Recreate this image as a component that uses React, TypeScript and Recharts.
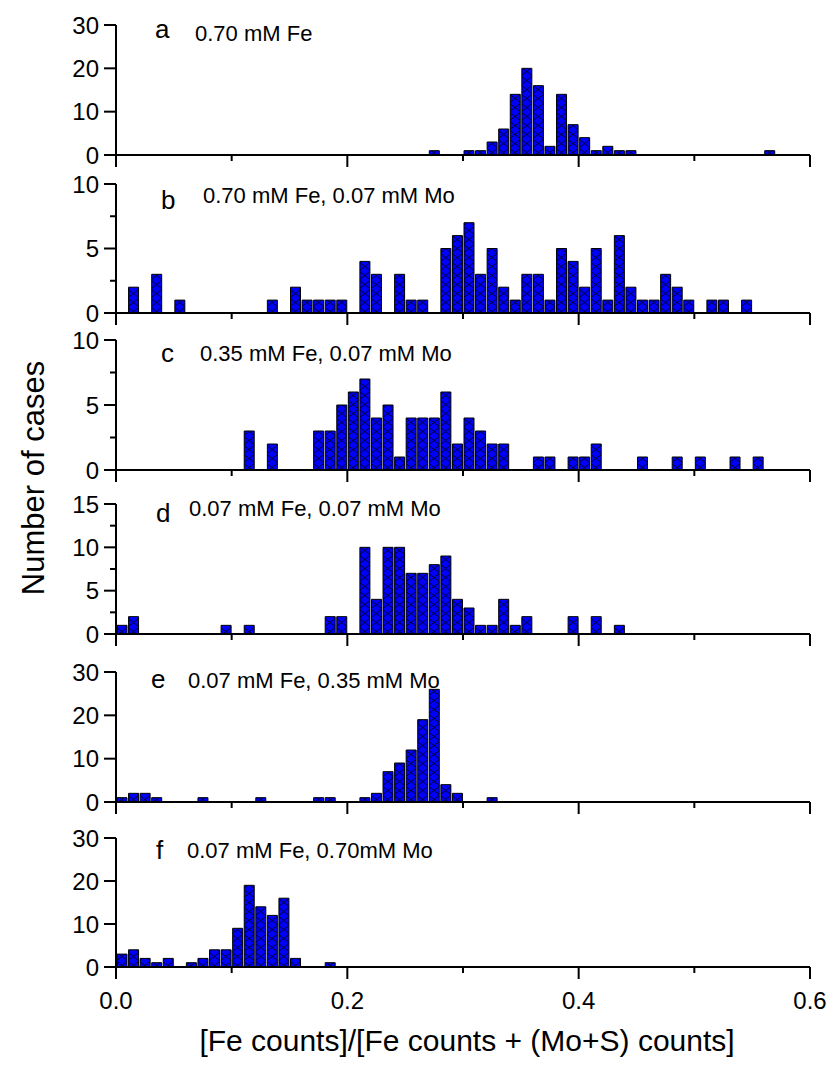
import React from "react";
import { BarChart, Bar, XAxis, YAxis } from "recharts";

// Bin index k covers [k*0.01, (k+1)*0.01)
const binCount = 60;
const xTicks = [0, 0.1, 0.2, 0.3, 0.4, 0.5, 0.6];

const countsA = [
  0, 0, 0, 0, 0, 0, 0, 0, 0, 0,
  0, 0, 0, 0, 0, 0, 0, 0, 0, 0,
  0, 0, 0, 0, 0, 0, 0, 1, 0, 0,
  1, 1, 3, 6, 14, 20, 16, 2, 14, 7,
  4, 1, 2, 1, 1, 0, 0, 0, 0, 0,
  0, 0, 0, 0, 0, 0, 1, 0, 0, 0,
];
const countsB = [
  0, 2, 0, 3, 0, 1, 0, 0, 0, 0,
  0, 0, 0, 1, 0, 2, 1, 1, 1, 1,
  0, 4, 3, 0, 3, 1, 1, 0, 5, 6,
  7, 3, 5, 2, 1, 3, 3, 1, 5, 4,
  2, 5, 1, 6, 2, 1, 1, 3, 2, 1,
  0, 1, 1, 0, 1, 0, 0, 0, 0, 0,
];
const countsC = [
  0, 0, 0, 0, 0, 0, 0, 0, 0, 0,
  0, 3, 0, 2, 0, 0, 0, 3, 3, 5,
  6, 7, 4, 5, 1, 4, 4, 4, 6, 2,
  4, 3, 2, 2, 0, 0, 1, 1, 0, 1,
  1, 2, 0, 0, 0, 1, 0, 0, 1, 0,
  1, 0, 0, 1, 0, 1, 0, 0, 0, 0,
];
const countsD = [
  1, 2, 0, 0, 0, 0, 0, 0, 0, 1,
  0, 1, 0, 0, 0, 0, 0, 0, 2, 2,
  0, 10, 4, 10, 10, 7, 7, 8, 9, 4,
  3, 1, 1, 4, 1, 2, 0, 0, 0, 2,
  0, 2, 0, 1, 0, 0, 0, 0, 0, 0,
  0, 0, 0, 0, 0, 0, 0, 0, 0, 0,
];
const countsE = [
  1, 2, 2, 1, 0, 0, 0, 1, 0, 0,
  0, 0, 1, 0, 0, 0, 0, 1, 1, 0,
  0, 1, 2, 7, 9, 12, 19, 26, 4, 2,
  0, 0, 1, 0, 0, 0, 0, 0, 0, 0,
  0, 0, 0, 0, 0, 0, 0, 0, 0, 0,
  0, 0, 0, 0, 0, 0, 0, 0, 0, 0,
];
const countsF = [
  3, 4, 2, 1, 2, 0, 1, 2, 4, 4,
  9, 19, 14, 12, 16, 2, 0, 0, 1, 0,
  0, 0, 0, 0, 0, 0, 0, 0, 0, 0,
  0, 0, 0, 0, 0, 0, 0, 0, 0, 0,
  0, 0, 0, 0, 0, 0, 0, 0, 0, 0,
  0, 0, 0, 0, 0, 0, 0, 0, 0, 0,
];

const panelLetters = ["a", "b", "c", "d", "e", "f"];
const panelTexts = [
  "0.70 mM Fe",
  "0.70 mM Fe, 0.07 mM Mo",
  "0.35 mM Fe, 0.07 mM Mo",
  "0.07 mM Fe, 0.07 mM Mo",
  "0.07 mM Fe, 0.35 mM Mo",
  "0.07 mM Fe, 0.70mM Mo",
];
const yMax = [30, 10, 10, 15, 30, 30];
const yMajorTicks = [
  [0, 10, 20, 30],
  [0, 5, 10],
  [0, 5, 10],
  [0, 5, 10, 15],
  [0, 10, 20, 30],
  [0, 10, 20, 30],
];
const yMinorTicks = [[], [2.5, 7.5], [2.5, 7.5], [2.5, 7.5, 12.5], [], []];
const allCounts = [countsA, countsB, countsC, countsD, countsE, countsF];

// layout (pixels)
const plotTops = [25, 184, 340, 504, 672, 838];
const plotBottoms = [155, 313, 470, 634, 802, 967];
const letterPos = [
  [155, 38], [161, 209], [161, 362], [156, 522], [151, 688], [156, 859],
];
const textPos = [
  [195, 41], [203, 203], [200, 361], [189, 516], [188, 688], [187, 858],
];

const PLOT_LEFT = 116;
const PLOT_RIGHT = 810;
const TOP_PAD = 12;
const BOTTOM_AREA = 50;
const FONT = "'Liberation Sans', Arial, Helvetica, sans-serif";
const BIN_PX = (PLOT_RIGHT - PLOT_LEFT) / binCount;

const makeData = (counts: number[]) =>
  counts.map((c, k) => ({ x: (k + 0.5) / 100, count: c > 0 ? c : null }));

const makeXTick = (showLabels: boolean) => (props: any) => {
  const { x, y, payload } = props;
  const v = payload.value as number;
  const major = Math.round(v * 10) % 2 === 0;
  return (
    <g>
      <line x1={x} x2={x} y1={y} y2={y + (major ? 12 : 6)} stroke="#000" strokeWidth={2} />
      {showLabels && major ? (
        <text x={x} y={y + 42} textAnchor="middle" fontSize={24} fontFamily={FONT} fill="#000">
          {v.toFixed(1)}
        </text>
      ) : null}
    </g>
  );
};

const makeYTick = (majors: number[]) => (props: any) => {
  const { x, y, payload } = props;
  const v = payload.value as number;
  const major = majors.includes(v);
  return (
    <g>
      <line x1={x - (major ? 12 : 6)} x2={x} y1={y} y2={y} stroke="#000" strokeWidth={2} />
      {major ? (
        <text x={x - 17} y={y + 8.5} textAnchor="end" fontSize={24} fontFamily={FONT} fill="#000">
          {v}
        </text>
      ) : null}
    </g>
  );
};

function Panel({ i }: { i: number }) {
  const plotH = plotBottoms[i] - plotTops[i];
  const h = TOP_PAD + plotH + BOTTOM_AREA;
  const ticks = [...yMajorTicks[i], ...yMinorTicks[i]].sort((a, b) => a - b);
  return (
    <div style={{ position: "absolute", left: 0, top: plotTops[i] - TOP_PAD }}>
      <BarChart
        width={831}
        height={h}
        data={makeData(allCounts[i])}
        margin={{ top: TOP_PAD, right: 831 - PLOT_RIGHT, left: 0, bottom: 0 }}
        barCategoryGap={0}
      >
        <XAxis
          type="number"
          dataKey="x"
          domain={[0, 0.6]}
          ticks={xTicks}
          interval={0}
          height={BOTTOM_AREA}
          axisLine={{ stroke: "#000", strokeWidth: 2 }}
          tickLine={false}
          tickSize={0}
          tickMargin={0}
          tick={makeXTick(i === 5)}
        />
        <YAxis
          type="number"
          domain={[0, yMax[i]]}
          ticks={ticks}
          interval={0}
          width={PLOT_LEFT}
          axisLine={{ stroke: "#000", strokeWidth: 2 }}
          tickLine={false}
          tickSize={0}
          tickMargin={0}
          tick={makeYTick(yMajorTicks[i])}
        />
        <Bar
          dataKey="count"
          fill="url(#xhatch)"
          stroke="#000"
          strokeWidth={1}
          barSize={10}
          isAnimationActive={false}
        />
      </BarChart>
    </div>
  );
}

export default function App() {
  return (
    <div
      style={{
        position: "absolute",
        left: 0,
        top: 0,
        width: 831,
        height: 1065,
        background: "#fff",
        fontFamily: FONT,
      }}
    >
      <svg width={0} height={0} style={{ position: "absolute" }}>
        <defs>
          <pattern
            id="xhatch"
            patternUnits="userSpaceOnUse"
            x={PLOT_LEFT}
            y={0}
            width={BIN_PX}
            height={9}
          >
            <rect x={0} y={0} width={BIN_PX} height={9} fill="#0000ff" />
            <path
              d={`M0,0 L${BIN_PX},9 M${BIN_PX},0 L0,9`}
              stroke="#000"
              strokeWidth={0.8}
            />
          </pattern>
        </defs>
      </svg>
      {panelLetters.map((_, i) => (
        <Panel key={i} i={i} />
      ))}
      <svg
        width={831}
        height={1065}
        style={{ position: "absolute", left: 0, top: 0, pointerEvents: "none" }}
      >
        {panelLetters.map((l, i) => (
          <text key={"l" + i} x={letterPos[i][0]} y={letterPos[i][1]} fontSize={26} fontFamily={FONT} fill="#000">
            {l}
          </text>
        ))}
        {panelTexts.map((t, i) => (
          <text key={"t" + i} x={textPos[i][0]} y={textPos[i][1]} fontSize={22} fontFamily={FONT} fill="#000">
            {t}
          </text>
        ))}
        <text
          x={0}
          y={0}
          transform="translate(44,478) rotate(-90)"
          textAnchor="middle"
          fontSize={31}
          fontFamily={FONT}
          fill="#000"
        >
          Number of cases
        </text>
        <text x={467} y={1051} textAnchor="middle" fontSize={30} fontFamily={FONT} fill="#000">
          [Fe counts]/[Fe counts + (Mo+S) counts]
        </text>
      </svg>
    </div>
  );
}
